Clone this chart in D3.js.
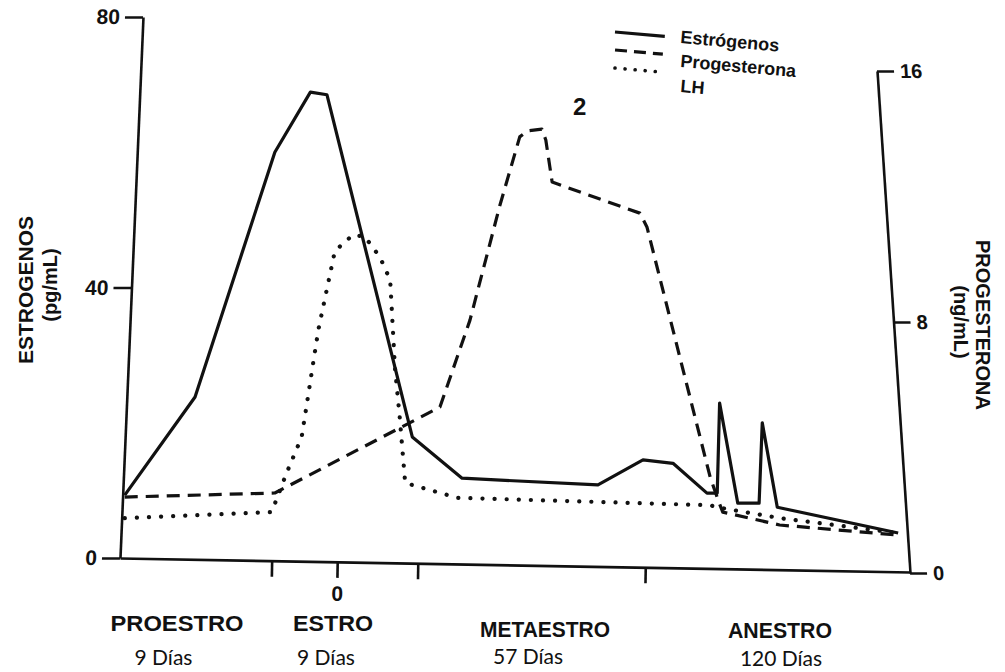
<!DOCTYPE html>
<html>
<head>
<meta charset="utf-8">
<script src="https://cdn.jsdelivr.net/npm/d3@7"></script>
<style>
  html, body { margin: 0; padding: 0; background: #fff; }
  svg { display: block; }
  .tick text { font-family: 'Liberation Sans', Arial, sans-serif; font-weight: bold; }
</style>
</head>
<body>
<svg id="chart" width="1005" height="672"></svg>
<script>
// ---------------- DATA ----------------
// x: arbitrary time units along the cycle (0..100)
const estrogenX = [0.6, 9.5, 19.6, 24.1, 26.2, 37.0, 43.3, 60.5, 66.2, 70.0, 74.3, 75.6, 75.9, 78.2, 80.9, 81.3, 83.2, 98.5];
const estrogenY = [9.3, 23.8, 60.0, 68.9, 68.5, 17.9, 11.8, 10.8, 14.5, 14.0, 9.6, 9.6, 22.9, 8.1, 8.1, 20.0, 7.5, 3.7]; // pg/mL

const progX = [0.6, 19.6, 40.5, 44.3, 48.1, 50.6, 51.6, 53.4, 53.9, 54.7, 65.8, 66.7, 74.7, 75.7, 76.3, 83.5, 98.4];
const progY = [2.42, 2.55, 5.29, 8.06, 11.73, 13.9, 14.09, 14.15, 13.8, 12.46, 11.47, 11.03, 3.06, 2.33, 1.94, 1.53, 1.21]; // ng/mL

const lhX = [0.6, 19.2, 21.1, 23.0, 25.1, 27.2, 29.5, 31.0, 32.9, 34.2, 34.8, 35.4, 36.1, 42.7, 74.7, 75.6, 83.5, 98.4];
const lhY = [5.9, 6.8, 12.6, 17.9, 33.7, 45.4, 47.8, 47.5, 44.5, 41.1, 28.2, 20.9, 11.1, 8.9, 7.8, 7.5, 5.9, 3.7];

const leftTicks = [0, 40, 80];
const rightTicks = [0, 8, 16];
const xTickValues = [19.2, 27.5, 37.7, 66.5];
const xTickLabels = ["", "0", "", ""];

const phaseNames = ["PROESTRO", "ESTRO", "METAESTRO", "ANESTRO"];
const phaseDays = ["9 Días", "9 Días", "57 Días", "120 Días"];

const legendNames = ["Estrógenos", "Progesterona", "LH"];
const leftTitle = ["ESTROGENOS", "(pg/mL)"];
const rightTitle = ["PROGESTERONA", "(ng/mL)"];
const peakLabel = "2";

// ---------------- LAYOUT ----------------
const svg = d3.select("#chart");
const x = d3.scaleLinear().domain([0, 100]).range([120, 910]);
const yL = d3.scaleLinear().domain([0, 80]).range([558, 17]);
const yR = d3.scaleLinear().domain([0, 16]).range([573, 71]);

const boldFont = "'Liberation Sans', Arial, Helvetica, sans-serif";
const daysFont = "Lato, 'Open Sans', sans-serif";

function styleAxis(g, size) {
  g.attr("font-size", size).attr("font-family", boldFont).attr("font-weight", "bold");
  g.selectAll("path, line").attr("stroke", "#111").attr("stroke-width", 2.6);
  g.selectAll("text").attr("font-size", size).attr("fill", "#111");
}

// Left axis (slightly tilted like the scan)
const aL = Math.atan(-23 / 541) * 180 / Math.PI;
const gLw = svg.append("g").attr("transform", `translate(120,558) skewX(${aL}) translate(-120,-558)`);
const gL = gLw.append("g").attr("transform", "translate(120,0)")
  .call(d3.axisLeft(yL).tickValues(leftTicks).tickSize(18).tickPadding(5).tickSizeOuter(0));
styleAxis(gL, 21);

// Right axis
const aR = Math.atan(33 / 502) * 180 / Math.PI;
const gRw = svg.append("g").attr("transform", `translate(910,573) skewX(${aR}) translate(-910,-573)`);
const gR = gRw.append("g").attr("transform", "translate(910,0)")
  .call(d3.axisRight(yR).tickValues(rightTicks).tickSize(17).tickPadding(6).tickSizeOuter(0));
styleAxis(gR, 20);

// Bottom axis
const gB = svg.append("g").attr("transform", "rotate(1.015,120,558) translate(0,558)")
  .call(d3.axisBottom(x).tickValues(xTickValues).tickSize(16).tickPadding(8).tickSizeOuter(0)
    .tickFormat((d, i) => xTickLabels[i]));
styleAxis(gB, 21);

// Axis titles
svg.append("text").attr("transform", "translate(33,290) rotate(-90)")
  .attr("text-anchor", "middle").attr("font-family", boldFont).attr("font-weight", "bold")
  .attr("font-size", 21).attr("fill", "#111").text(leftTitle[0]);
svg.append("text").attr("transform", "translate(57,285) rotate(-90)")
  .attr("text-anchor", "middle").attr("font-family", boldFont).attr("font-weight", "bold")
  .attr("font-size", 20).attr("fill", "#111").text(leftTitle[1]);
svg.append("text").attr("transform", "translate(976,325) rotate(90)")
  .attr("text-anchor", "middle").attr("font-family", boldFont).attr("font-weight", "bold")
  .attr("font-size", 20).attr("fill", "#111").text(rightTitle[0]);
svg.append("text").attr("transform", "translate(954,322) rotate(90)")
  .attr("text-anchor", "middle").attr("font-family", boldFont).attr("font-weight", "bold")
  .attr("font-size", 20).attr("fill", "#111").text(rightTitle[1]);

// ---------------- SERIES ----------------
const zip = (a, b) => a.map((v, i) => [v, b[i]]);
const lineL = d3.line().x(d => x(d[0])).y(d => yL(d[1]));
const lineR = d3.line().x(d => x(d[0])).y(d => yR(d[1]));

svg.append("path").datum(zip(lhX, lhY)).attr("d", lineL)
  .attr("fill", "none").attr("stroke", "#111").attr("stroke-width", 4.2)
  .attr("stroke-linecap", "round").attr("stroke-dasharray", "0.1 12");
svg.append("path").datum(zip(progX, progY)).attr("d", lineR)
  .attr("fill", "none").attr("stroke", "#111").attr("stroke-width", 3.2)
  .attr("stroke-linejoin", "round").attr("stroke-dasharray", "13 8");
svg.append("path").datum(zip(estrogenX, estrogenY)).attr("d", lineL)
  .attr("fill", "none").attr("stroke", "#111").attr("stroke-width", 3.2)
  .attr("stroke-linejoin", "round");

// Peak label "2"
svg.append("text").attr("x", x(58.2)).attr("y", yR(14.6))
  .attr("text-anchor", "middle").attr("font-family", boldFont).attr("font-weight", "bold")
  .attr("font-size", 24).attr("fill", "#111").text(peakLabel);

// ---------------- LEGEND ----------------
const legend = svg.append("g").attr("transform", "translate(615,32) rotate(5)");
const legendLines = [
  { x0: 0, y0: 0, len: 50, dash: null, w: 3.2, cap: "butt" },
  { x0: 1.6, y0: 17.9, len: 48, dash: "12 7", w: 3.2, cap: "butt" },
  { x0: 3.1, y0: 35.9, len: 50, dash: "0.1 10", w: 3.6, cap: "round" }
];
const legendText = [[65.7, 5.3], [67.8, 29.2], [70, 54.1]];
legendNames.forEach((name, i) => {
  const L = legendLines[i];
  legend.append("line").attr("x1", L.x0).attr("y1", L.y0).attr("x2", L.x0 + L.len).attr("y2", L.y0)
    .attr("stroke", "#111").attr("stroke-width", L.w).attr("stroke-linecap", L.cap)
    .attr("stroke-dasharray", L.dash);
  legend.append("text").attr("x", legendText[i][0]).attr("y", legendText[i][1])
    .attr("font-family", boldFont).attr("font-weight", "bold").attr("font-size", 18)
    .attr("fill", "#111").text(name);
});

// ---------------- PHASE LABELS ----------------
const phasePos = [
  { cx: 177, cy: 631, w: 133, dx: 163.5, dy: 665 },
  { cx: 333, cy: 631, w: 80, dx: 326, dy: 665 },
  { cx: 545, cy: 637, w: 130, dx: 528, dy: 664 },
  { cx: 780, cy: 638, w: 104, dx: 781, dy: 666 }
];
phaseNames.forEach((n, i) => {
  const p = phasePos[i];
  svg.append("text").attr("x", p.cx).attr("y", p.cy).attr("text-anchor", "middle")
    .attr("font-family", boldFont).attr("font-weight", "bold").attr("font-size", 22)
    .attr("fill", "#111").attr("textLength", p.w).attr("lengthAdjust", "spacingAndGlyphs").text(n);
  svg.append("text").attr("x", p.dx).attr("y", p.dy).attr("text-anchor", "middle")
    .attr("font-family", daysFont).attr("font-size", 21)
    .attr("fill", "#111").text(phaseDays[i]);
});
</script>
</body>
</html>
